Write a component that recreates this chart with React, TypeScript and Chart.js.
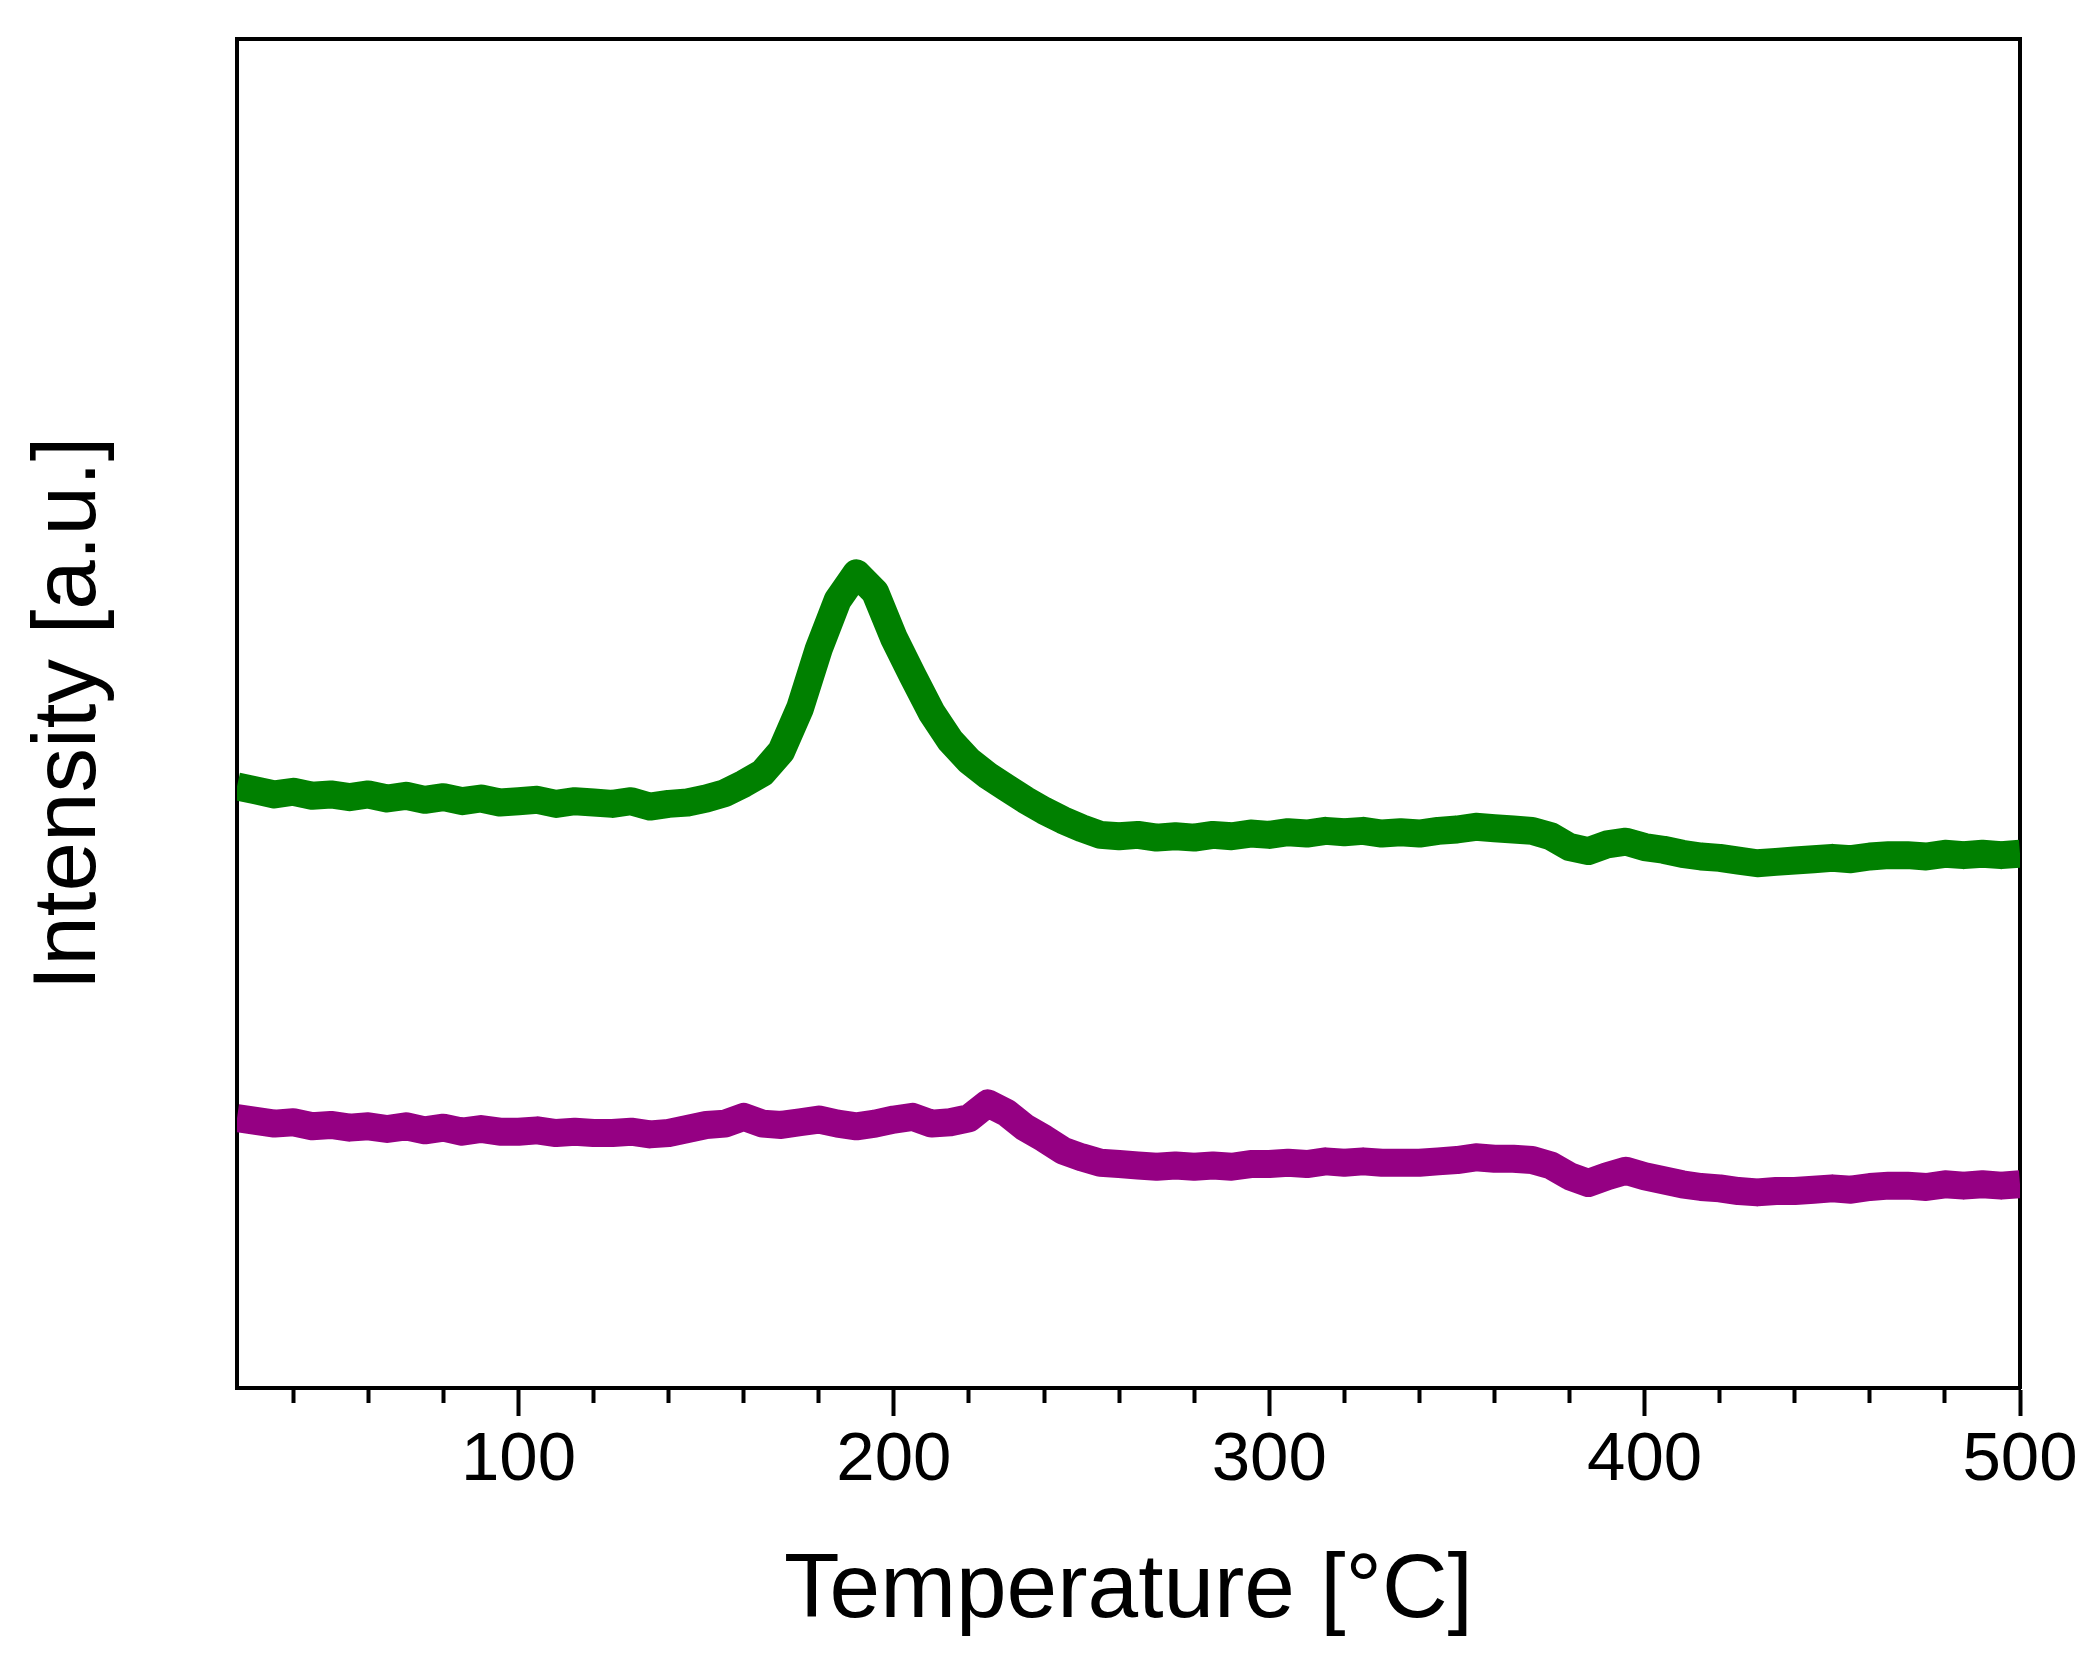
import { useEffect, useRef } from 'react';
import { Chart, registerables } from 'chart.js';

Chart.register(...registerables);

// temperature grid (°C) the traces were read at
const temperatures = [
  25, 30, 35, 40, 45, 50, 55, 60, 65, 70, 75, 80, 85, 90, 95, 100,
  105, 110, 115, 120, 125, 130, 135, 140, 145, 150, 155, 160, 165, 170, 175, 180,
  185, 190, 195, 200, 205, 210, 215, 220, 225, 230, 235, 240, 245, 250, 255, 260,
  265, 270, 275, 280, 285, 290, 295, 300, 305, 310, 315, 320, 325, 330, 335, 340,
  345, 350, 355, 360, 365, 370, 375, 380, 385, 390, 395, 400, 405, 410, 415, 420,
  425, 430, 435, 440, 445, 450, 455, 460, 465, 470, 475, 480, 485, 490, 495, 500,
];

// upper trace (green), intensity in a.u.
const greenTrace = [
  44.6, 44.3, 44.0, 44.2, 43.9, 44.0, 43.8, 44.0, 43.7, 43.9, 43.6, 43.8, 43.5, 43.7, 43.4, 43.5,
  43.6, 43.3, 43.5, 43.4, 43.3, 43.5, 43.1, 43.3, 43.4, 43.7, 44.1, 44.8, 45.6, 47.2, 50.4, 54.8,
  58.4, 60.4, 59.0, 55.6, 52.8, 50.1, 48.0, 46.5, 45.4, 44.5, 43.6, 42.8, 42.1, 41.5, 41.0, 40.9,
  41.0, 40.8, 40.9, 40.8, 41.0, 40.9, 41.1, 41.0, 41.2, 41.1, 41.3, 41.2, 41.3, 41.1, 41.2, 41.1,
  41.3, 41.4, 41.6, 41.5, 41.4, 41.3, 40.9, 40.1, 39.8, 40.3, 40.5, 40.1, 39.9, 39.6, 39.4, 39.3,
  39.1, 38.9, 39.0, 39.1, 39.2, 39.3, 39.2, 39.4, 39.5, 39.5, 39.4, 39.6, 39.5, 39.6, 39.5, 39.6,
];

// lower trace (purple), intensity in a.u.
const purpleTrace = [
  20.0, 19.8, 19.6, 19.7, 19.4, 19.5, 19.3, 19.4, 19.2, 19.4, 19.1, 19.3, 19.0, 19.2, 19.0, 19.0,
  19.1, 18.9, 19.0, 18.9, 18.9, 19.0, 18.8, 18.9, 19.2, 19.5, 19.6, 20.1, 19.6, 19.5, 19.7, 19.9,
  19.6, 19.4, 19.6, 19.9, 20.1, 19.6, 19.7, 20.0, 21.1, 20.4, 19.3, 18.5, 17.6, 17.1, 16.7, 16.6,
  16.5, 16.4, 16.5, 16.4, 16.5, 16.4, 16.6, 16.6, 16.7, 16.6, 16.8, 16.7, 16.8, 16.7, 16.7, 16.7,
  16.8, 16.9, 17.1, 17.0, 17.0, 16.9, 16.5, 15.7, 15.2, 15.7, 16.1, 15.7, 15.4, 15.1, 14.9, 14.8,
  14.6, 14.5, 14.6, 14.6, 14.7, 14.8, 14.7, 14.9, 15.0, 15.0, 14.9, 15.1, 15.0, 15.1, 15.0, 15.1,
];

const FONT = "'Liberation Sans', Arial, Helvetica, sans-serif";

export default function App() {
  const canvasRef = useRef<HTMLCanvasElement>(null);

  useEffect(() => {
    if (!canvasRef.current) return;
    const toPoints = (ys: number[]) => temperatures.map((x, i) => ({ x, y: ys[i] }));
    const frame = {
      ticks: { display: false },
      grid: { display: false },
      border: { display: true, width: 4, color: '#000' },
    };
    const chart = new Chart(canvasRef.current, {
      type: 'line',
      data: {
        datasets: [
          {
            label: 'green',
            data: toPoints(greenTrace),
            borderColor: '#008000',
            borderWidth: 28,
            pointRadius: 0,
            borderJoinStyle: 'round',
            tension: 0,
          },
          {
            label: 'purple',
            data: toPoints(purpleTrace),
            borderColor: '#950083',
            borderWidth: 28,
            pointRadius: 0,
            borderJoinStyle: 'round',
            tension: 0,
          },
        ],
      },
      options: {
        responsive: false,
        animation: false,
        devicePixelRatio: 1,
        layout: { padding: { left: 0, top: 39, right: 75, bottom: 0 } },
        plugins: { legend: { display: false }, tooltip: { enabled: false } },
        scales: {
          x: {
            type: 'linear',
            position: 'bottom',
            min: 25,
            max: 500,
            afterFit: (s: any) => { s.height = 275; },
            ticks: {
              stepSize: 20,
              includeBounds: false,
              autoSkip: false,
              maxRotation: 0,
              minRotation: 0,
              padding: 4,
              color: '#000',
              font: { family: FONT, size: 69 },
              callback: (v: any) => (Number(v) % 100 === 0 ? String(v) : ''),
            },
            grid: {
              display: true,
              drawOnChartArea: false,
              drawTicks: true,
              tickLength: 28,
              tickWidth: 4,
              tickColor: '#000',
              // minor ticks every 20 °C are drawn shorter
              tickBorderDash: (ctx: any) => (ctx.tick && ctx.tick.value % 100 !== 0 ? [13, 60] : []),
            },
            border: { display: true, width: 4, color: '#000' },
            title: {
              display: true,
              text: 'Temperature [°C]',
              color: '#000',
              font: { family: FONT, size: 91 },
              padding: { top: 0, bottom: 16 },
            },
          },
          y: {
            type: 'linear',
            position: 'left',
            min: 0,
            max: 100,
            afterFit: (s: any) => { s.width = 237; },
            ticks: { display: false },
            grid: { display: false },
            border: { display: true, width: 4, color: '#000' },
            title: {
              display: true,
              text: 'Intensity [a.u.]',
              color: '#000',
              font: { family: FONT, size: 89 },
              padding: { top: 17, bottom: 0 },
            },
          },
          xTop: {
            type: 'linear',
            position: 'top',
            min: 25,
            max: 500,
            afterFit: (s: any) => { s.height = 0; },
            ...frame,
          },
          yRight: {
            type: 'linear',
            position: 'right',
            min: 0,
            max: 100,
            afterFit: (s: any) => { s.width = 0; },
            ...frame,
          },
        },
      },
    });
    return () => { chart.destroy(); };
  }, []);

  return (
    <div style={{ position: 'absolute', left: 0, top: 0, width: 2095, height: 1663, background: '#fff' }}>
      <canvas ref={canvasRef} width={2095} height={1663} style={{ display: 'block' }} />
    </div>
  );
}
